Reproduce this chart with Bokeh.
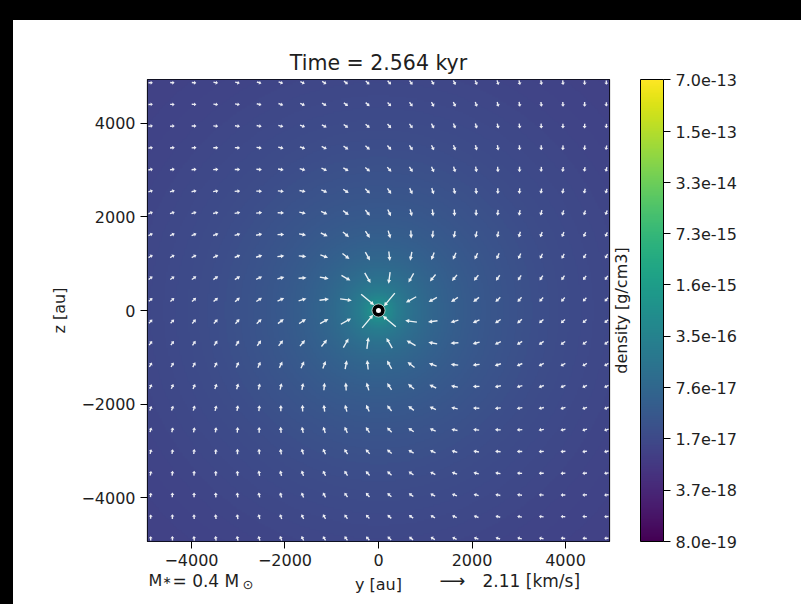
import numpy as np
from bokeh.plotting import figure
from bokeh.models import (LogColorMapper, ColorBar, FixedTicker, CustomJSTickFormatter,
                          Label, Range1d, LinearAxis, GlobalInlineStyleSheet)
from bokeh.palettes import Viridis256
from bokeh.embed import file_html
from bokeh.resources import INLINE

# ---------------- data ----------------
title_text = "Time = 2.564 kyr"
axis_ticks = [-4000, -2000, 0, 2000, 4000]
half_extent = 4940.0                       # au, axes limits +-
cbar_ticks = [8.0e-19, 3.66e-18, 1.67e-17, 7.6e-17, 3.5e-16,
              1.6e-15, 7.3e-15, 3.3e-14, 1.5e-13, 7.0e-13]
rho_low, rho_high = 8.0e-19, 7.0e-13
rho_bg = 5.0e-18        # g/cm3 far from the star
rho_1000 = 8.0e-17      # excess at r = 1000 au
rho_slope = 1.3
r_soft = 40.0
# velocity field: infall with some rotation
v_1000 = 0.75           # km/s at 1000 au
v_slope = 0.45
rot_deg_max = 45.0      # deflection of the arrows at large radius
rot_r = 3000.0
grid_step = 464.0       # au between arrows
n_grid = 22
key_speed = 2.11        # km/s
key_label = "2.11 [km/s]"
mass_label = "0.4"

# ---------------- geometry ----------------
FL, FT, FW, FH = 147, 79, 462, 462
W, H = 801, 604
s = 2 * half_extent / FW          # au per pixel
TXT = "#1e1e1e"

p = figure(frame_width=FW, frame_height=FH, min_border_left=FL, min_border_top=FT,
           min_border_bottom=H - FT - FH, min_border_right=W - FL - FW,
           x_range=Range1d(-half_extent, half_extent), y_range=Range1d(-half_extent, half_extent),
           output_backend="svg", toolbar_location=None)
p.border_fill_alpha = 0.0
p.outline_line_color = "black"
p.outline_line_width = 1.2
p.grid.visible = False
p.stylesheets = [GlobalInlineStyleSheet(css="""
body { background:
  linear-gradient(#000,#000) left top / 100% 20px no-repeat,
  linear-gradient(#000,#000) left top / 13px 100% no-repeat,
  #fff; }
""")]

# title
p.title.text = title_text
p.title.align = "center"
p.title.text_font = "DejaVu Sans"
p.title.text_font_size = "20.5px"
p.title.text_font_style = "normal"
p.title.text_color = TXT
p.title.standoff = 10

# density image
n = 300
g = np.linspace(-half_extent, half_extent, n)
YY, ZZ = np.meshgrid(g, g)
R = np.sqrt(YY ** 2 + ZZ ** 2 + r_soft ** 2)
rho = rho_bg + rho_1000 * (R / 1000.0) ** (-rho_slope)
mapper = LogColorMapper(palette=Viridis256, low=rho_low, high=rho_high)
p.image(image=[rho], x=-half_extent, y=-half_extent, dw=2 * half_extent, dh=2 * half_extent,
        color_mapper=mapper)

# velocity arrows (pivot in the middle)
gp = (np.arange(n_grid) - (n_grid - 1) / 2.0) * grid_step
px_per_kms = 29.0 / key_speed
xs_list, ys_list = [], []
for zc in gp:
    for yc in gp:
        r = np.hypot(yc, zc)
        ux, uz = -yc / r, -zc / r                      # infall direction
        ang = np.radians(rot_deg_max * min(1.0, r / rot_r))
        dx = ux * np.cos(ang) - uz * np.sin(ang)
        dz = ux * np.sin(ang) + uz * np.cos(ang)
        v = v_1000 * (r / 1000.0) ** (-v_slope)
        L = v * px_per_kms
        hl = min(4.0, 0.5 * L)
        w, hw = 0.7, 2.0
        pts = [(-L / 2, -w), (L / 2 - hl, -w), (L / 2 - hl, -hw), (L / 2, 0),
               (L / 2 - hl, hw), (L / 2 - hl, w), (-L / 2, w)]
        xs_list.append([yc + (a * dx - b * dz) * s for a, b in pts])
        ys_list.append([zc + (a * dz + b * dx) * s for a, b in pts])
p.patches(xs_list, ys_list, fill_color="white", line_color=None, fill_alpha=0.9)

# star
p.scatter([0], [0], size=13, fill_color="black", line_color="white", line_width=1, line_alpha=0.6)
p.scatter([0], [0], size=5, fill_color="white", line_color=None)

# axes
fmt = CustomJSTickFormatter(code="return tick < 0 ? '\\u2212' + Math.abs(tick) : '' + tick;")
for ax in (p.xaxis[0], p.yaxis[0]):
    ax.ticker = FixedTicker(ticks=axis_ticks)
    ax.formatter = fmt
    ax.major_tick_out = 7
    ax.major_tick_in = 0
    ax.minor_tick_line_color = None
    ax.axis_line_color = None
    ax.major_tick_line_color = "black"
    ax.major_label_text_font = "DejaVu Sans"
    ax.major_label_text_font_size = "16px"
    ax.major_label_text_color = TXT
    ax.major_label_standoff = 5
    ax.axis_label_text_font = "DejaVu Sans"
    ax.axis_label_text_font_size = "16px"
    ax.axis_label_text_font_style = "normal"
    ax.axis_label_text_color = TXT
p.xaxis[0].axis_label = "y [au]"
p.xaxis[0].axis_label_standoff = 6
p.yaxis[0].axis_label = "z [au]"
p.yaxis[0].axis_label_standoff = 9

# right: spacer axis (about 31 px wide) then colour bar
spacer = LinearAxis(ticker=FixedTicker(ticks=[]), axis_line_color=None,
                    major_tick_line_color=None, minor_tick_line_color=None,
                    major_tick_out=0, major_tick_in=0, axis_label="\u00a0",
                    axis_label_text_font="DejaVu Sans", axis_label_text_font_size="16px",
                    axis_label_standoff=9)
p.add_layout(spacer, "right")

cb = ColorBar(color_mapper=mapper, ticker=FixedTicker(ticks=cbar_ticks),
              formatter=CustomJSTickFormatter(code="return tick.toExponential(1);"),
              width=23, height=FH, padding=0, margin=0, bar_line_color="black",
              major_tick_line_color="black", major_tick_out=7, major_tick_in=0,
              minor_tick_line_color=None, label_standoff=5,
              major_label_text_font="DejaVu Sans", major_label_text_font_size="16px",
              major_label_text_color=TXT,
              background_fill_alpha=0, border_line_color=None)
p.add_layout(cb, "right")

# free annotations (canvas coordinates, outside the frame)
def lab(x, y, t, size="16px", align="left", angle=0.0, panel="below"):
    p.add_layout(Label(x=x, y=y, x_units="canvas", y_units="canvas", text=t, angle=angle,
                       text_font="DejaVu Sans", text_font_size=size, text_align=align,
                       text_baseline="middle", text_color=TXT), panel)

lab(621, FT + FH / 2, "density [g/cm3]", align="center", angle=np.pi / 2, panel="right")
lab(148, 580, "M")
lab(162, 580, "\u2217", size="11px")
lab(172, 580, "= " + mass_label + " M", size="17px")
lab(242, 584, "\u2299", size="13px")
lab(439, 580, "\u27f6", size="18px")
lab(482, 580, key_label, size="17px")

open("out.html", "w").write(file_html(p, INLINE))
